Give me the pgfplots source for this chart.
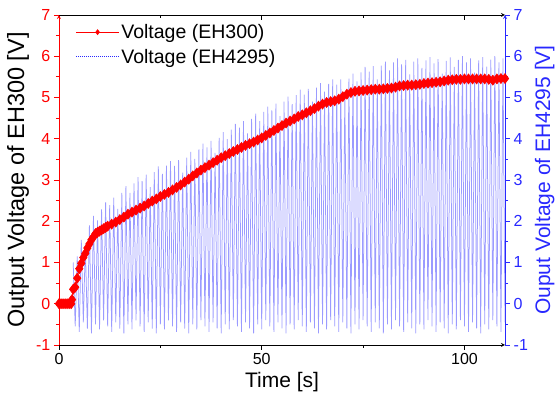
\documentclass[border=0pt]{standalone}
\usepackage{fontspec}
\setmainfont{Liberation Sans}
\usepackage{pgfplots}
\pgfplotsset{compat=1.18}
\definecolor{eblue}{RGB}{40,40,255}
\definecolor{lblue}{RGB}{155,155,255}
\definecolor{ered}{RGB}{255,0,0}
\begin{document}
\begin{tikzpicture}
\pgfplotsset{
  common/.style={
    scale only axis, width=446pt, height=330pt,
    xmin=0, xmax=110, ymin=-1, ymax=7,
    /pgf/number format/assume math mode=true,
    tick label style={font=\fontsize{16}{19}\selectfont},
    major tick length=5pt, minor tick length=3pt,
    xtick={0,50,100}, minor xtick={25,75},
    ytick={-1,0,...,7}, minor ytick={-0.5,0.5,...,6.5},
    axis line style={-}, line width=0.8pt,
    every tick/.style={line width=0.8pt},
  },
}
% right (blue) axis, drawn first so the red curve lies on top
\begin{axis}[common,
  axis x line=none, axis y line=right, tick align=outside,
  y axis line style={eblue}, ytick style={eblue}, yticklabel style={eblue},
  ylabel={Ouput Voltage of EH4295 [V]},
  ylabel style={eblue, font=\fontsize{21}{24}\selectfont},
]
\addplot[lblue, line width=0.75pt] coordinates {
(3.5,1.0) (4,-0.55) (4.5,1.15) (5,-0.68) (5.5,1.55) (6,-0.45) (6.5,1.43) (7,-0.6) (7.5,1.9) (8,-0.72) (8.5,2.13) (9,-0.5) (9.5,2.02) (10,-0.62) (10.5,2.29) (11,-0.4)
(11.5,2.46) (12,-0.55) (12.5,2.39) (13,-0.68) (13.5,2.57) (14,-0.45) (14.5,2.3) (15,-0.6) (15.5,2.69) (16,-0.72) (16.5,2.85) (17,-0.5) (17.5,2.69) (18,-0.62) (18.5,2.92) (19,-0.4)
(19.5,3.07) (20,-0.55) (20.5,2.97) (21,-0.68) (21.5,3.13) (22,-0.45) (22.5,2.83) (23,-0.6) (23.5,3.19) (24,-0.72) (24.5,3.33) (25,-0.5) (25.5,3.15) (26,-0.62) (26.5,3.35) (27,-0.4)
(27.5,3.46) (28,-0.55) (28.5,3.34) (29,-0.68) (29.5,3.48) (30,-0.45) (30.5,3.18) (31,-0.6) (31.5,3.54) (32,-0.72) (32.5,3.68) (33,-0.5) (33.5,3.51) (34,-0.62) (34.5,3.74) (35,-0.4)
(35.5,3.88) (36,-0.55) (36.5,3.79) (37,-0.68) (37.5,3.95) (38,-0.45) (38.5,3.66) (39,-0.6) (39.5,4.02) (40,-0.72) (40.5,4.16) (41,-0.5) (41.5,3.99) (42,-0.62) (42.5,4.22) (43,-0.4)
(43.5,4.36) (44,-0.55) (44.5,4.27) (45,-0.68) (45.5,4.43) (46,-0.45) (46.5,4.13) (47,-0.6) (47.5,4.48) (48,-0.72) (48.5,4.61) (49,-0.5) (49.5,4.43) (50,-0.62) (50.5,4.65) (51,-0.4)
(51.5,4.78) (52,-0.55) (52.5,4.69) (53,-0.68) (53.5,4.85) (54,-0.45) (54.5,4.55) (55,-0.6) (55.5,4.9) (56,-0.72) (56.5,5.02) (57,-0.5) (57.5,4.84) (58,-0.62) (58.5,5.06) (59,-0.4)
(59.5,5.19) (60,-0.55) (60.5,5.07) (61,-0.68) (61.5,5.21) (62,-0.45) (62.5,4.9) (63,-0.6) (63.5,5.24) (64,-0.72) (64.5,5.35) (65,-0.5) (65.5,5.14) (66,-0.62) (66.5,5.33) (67,-0.4)
(67.5,5.44) (68,-0.55) (68.5,5.31) (69,-0.68) (69.5,5.44) (70,-0.45) (70.5,5.12) (71,-0.6) (71.5,5.46) (72,-0.72) (72.5,5.58) (73,-0.5) (73.5,5.39) (74,-0.62) (74.5,5.61) (75,-0.4)
(75.5,5.74) (76,-0.55) (76.5,5.63) (77,-0.68) (77.5,5.76) (78,-0.45) (78.5,5.44) (79,-0.6) (79.5,5.77) (80,-0.72) (80.5,5.87) (81,-0.5) (81.5,5.66) (82,-0.62) (82.5,5.85) (83,-0.4)
(83.5,5.95) (84,-0.55) (84.5,5.8) (85,-0.68) (85.5,5.91) (86,-0.45) (86.5,5.56) (87,-0.6) (87.5,5.87) (88,-0.72) (88.5,5.95) (89,-0.5) (89.5,5.72) (90,-0.62) (90.5,5.9) (91,-0.4)
(91.5,5.98) (92,-0.55) (92.5,5.83) (93,-0.68) (93.5,5.93) (94,-0.45) (94.5,5.58) (95,-0.6) (95.5,5.89) (96,-0.72) (96.5,5.97) (97,-0.5) (97.5,5.74) (98,-0.62) (98.5,5.91) (99,-0.4)
(99.5,6.0) (100,-0.55) (100.5,5.85) (101,-0.68) (101.5,5.95) (102,-0.45) (102.5,5.6) (103,-0.6) (103.5,5.9) (104,-0.72) (104.5,5.98) (105,-0.5) (105.5,5.75) (106,-0.62) (106.5,5.92) (107,-0.4)
(107.5,6.0) (108,-0.55) (108.5,5.85) (109,-0.68) (109.5,5.95) (110,-0.45)
};
\end{axis}
% top x axis, ticks inside
\begin{axis}[common, axis x line=top, axis y line=none, tick align=inside,
  xticklabels={}]
\end{axis}
% left (red) axis with bottom x axis
\begin{axis}[common, name=ax,
  axis x line=bottom, axis y line=left, tick align=outside,
  y axis line style={ered}, ytick style={ered}, yticklabel style={ered},
  xlabel={Time [s]}, ylabel={Output Voltage of EH300 [V]},
  xlabel style={font=\fontsize{21}{24}\selectfont},
  ylabel style={font=\fontsize{23.5}{26}\selectfont},
  legend style={draw=none, fill=none, at={(0.03,0.985)}, anchor=north west,
    font=\fontsize{19.5}{23}\selectfont, row sep=5pt},
  legend cell align=left,
  legend image code/.code={\draw[mark repeat=2,mark phase=2,#1] plot coordinates {(0pt,0pt) (21.5pt,0pt) (43pt,0pt)};},
]
\addplot[ered, line width=0.6pt, mark=diamond*, mark size=5pt,
  mark options={solid, fill=ered, draw=ered},
  legend image post style={mark size=2.5pt}] coordinates {
(0,0) (0.5,0) (1,0) (1.5,0) (2,0) (2.5,0) (3,0) (3.2,0.1) (3.5,0.35) (4,0.4)
(4.5,0.62) (5,0.85) (5.5,0.98) (6,1.12) (6.5,1.22) (7,1.35) (7.5,1.45) (8,1.55) (8.5,1.62) (9,1.7)
(9.5,1.73) (10,1.76) (10.5,1.79) (11,1.82) (11.5,1.85) (12,1.88) (13,1.93) (14,1.98) (15,2.04) (16,2.1) (17,2.17) (18,2.22) (19,2.27)
(20,2.32) (21,2.37) (22,2.43) (23,2.49) (24,2.54) (25,2.6) (26,2.65) (27,2.7) (28,2.76) (29,2.82)
(30,2.88) (31,2.95) (32,3.02) (33,3.1) (34,3.17) (35,3.24) (36,3.3) (37,3.36) (38,3.42) (39,3.48)
(40,3.54) (41,3.59) (42,3.64) (43,3.69) (44,3.74) (45,3.79) (46,3.84) (47,3.88) (48,3.92) (49,3.97)
(50,4.02) (51,4.08) (52,4.14) (53,4.2) (54,4.26) (55,4.32) (56,4.38) (57,4.43) (58,4.48) (59,4.54)
(60,4.58) (61,4.63) (62,4.68) (63,4.73) (64,4.79) (65,4.84) (66,4.88) (67,4.9) (68,4.92) (69,4.96)
(70,5.02) (71,5.08) (72,5.12) (73,5.15) (74,5.16) (75,5.17) (76,5.18) (77,5.19) (78,5.2) (79,5.2)
(80,5.21) (81,5.22) (82,5.23) (83,5.25) (84,5.28) (85,5.29) (86,5.3) (87,5.3) (88,5.31) (89,5.32)
(90,5.34) (91,5.35) (92,5.36) (93,5.37) (94,5.38) (95,5.4) (96,5.42) (97,5.43) (98,5.44) (99,5.44)
(100,5.45) (101,5.45) (102,5.45) (103,5.45) (104,5.45) (105,5.45) (106,5.44) (107,5.42) (108,5.45) (109,5.46)
(110,5.46)
};
\addlegendentry{Voltage (EH300)}
\addlegendimage{eblue, line width=0.6pt, dash pattern=on 0.8pt off 1.2pt}
\addlegendentry{Voltage (EH4295)}
\end{axis}
\pgfresetboundingbox
\path[use as bounding box] ([shift={(-59pt,-58pt)}]ax.south west) rectangle ++(557pt,403pt);
\end{tikzpicture}
\end{document}
